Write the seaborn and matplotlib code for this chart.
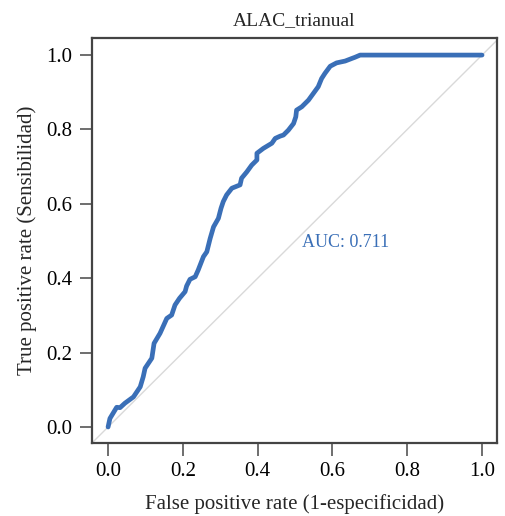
import pandas as pd
import seaborn as sns
import matplotlib.pyplot as plt

# ROC curve points
fpr = [0.0, 0.005, 0.023, 0.032, 0.045, 0.068, 0.086, 0.094, 0.099, 0.117, 0.123,
       0.139, 0.157, 0.170, 0.179, 0.191, 0.206, 0.210, 0.219, 0.233, 0.241, 0.255,
       0.264, 0.273, 0.282, 0.295, 0.302, 0.308, 0.317, 0.331, 0.353, 0.357, 0.371,
       0.384, 0.398, 0.398, 0.415, 0.438, 0.447, 0.460, 0.469, 0.482, 0.496, 0.502,
       0.504, 0.518, 0.536, 0.549, 0.562, 0.571, 0.580, 0.594, 0.611, 0.634, 0.652,
       0.660, 0.674, 1.0]
tpr = [0.0, 0.023, 0.053, 0.052, 0.064, 0.081, 0.108, 0.135, 0.158, 0.185, 0.225,
       0.252, 0.292, 0.301, 0.328, 0.346, 0.364, 0.379, 0.397, 0.404, 0.422, 0.458,
       0.471, 0.507, 0.538, 0.561, 0.588, 0.606, 0.624, 0.642, 0.651, 0.669, 0.686,
       0.704, 0.718, 0.736, 0.749, 0.763, 0.776, 0.782, 0.785, 0.798, 0.816, 0.834,
       0.852, 0.861, 0.879, 0.897, 0.915, 0.937, 0.951, 0.970, 0.979, 0.984, 0.991,
       0.994, 1.0, 1.0]
ticks = [0.0, 0.2, 0.4, 0.6, 0.8, 1.0]
titulo = "ALAC_trianual"
auc_txt = "AUC: 0.711"

df = pd.DataFrame({"fpr": fpr, "tpr": tpr})

sns.set_style("ticks")
plt.rcParams["font.family"] = ["Liberation Serif", "DejaVu Serif"]

fig = plt.figure(figsize=(5.06, 5.16), dpi=100)
ax = fig.add_axes([0.1818, 0.1415, 0.8004, 0.7849])

ax.axline((0, 0), (1, 1), color="#d9d9d9", lw=1, zorder=1)
sns.lineplot(data=df, x="fpr", y="tpr", sort=False, estimator=None,
             color="#3A6FB7", lw=3.4, ax=ax, zorder=2)
ax.text(0.636, 0.495, auc_txt, color="#3A6FB7", fontsize=13,
        ha="center", va="center")

ax.set_xlim(-0.043, 1.04)
ax.set_ylim(-0.043, 1.046)
ax.set_xticks(ticks)
ax.set_yticks(ticks)
ax.set_xticklabels([f"{t:.1f}" for t in ticks], fontsize=15)
ax.set_yticklabels([f"{t:.1f}" for t in ticks], fontsize=15)
ax.tick_params(bottom=True, left=True, length=9, width=1.2, color="#555555",
               pad=5, labelcolor="black", direction="out")
for s in ax.spines.values():
    s.set_visible(True)
    s.set_color("#444444")
    s.set_linewidth(1.6)

ax.set_xlabel("False positive rate (1-especificidad)", fontsize=15, labelpad=9)
ax.set_ylabel("True positive rate (Sensibilidad)", fontsize=15, labelpad=7)
ax.set_title(titulo, fontsize=14, pad=9)

fig.savefig("out.png", dpi=100)
